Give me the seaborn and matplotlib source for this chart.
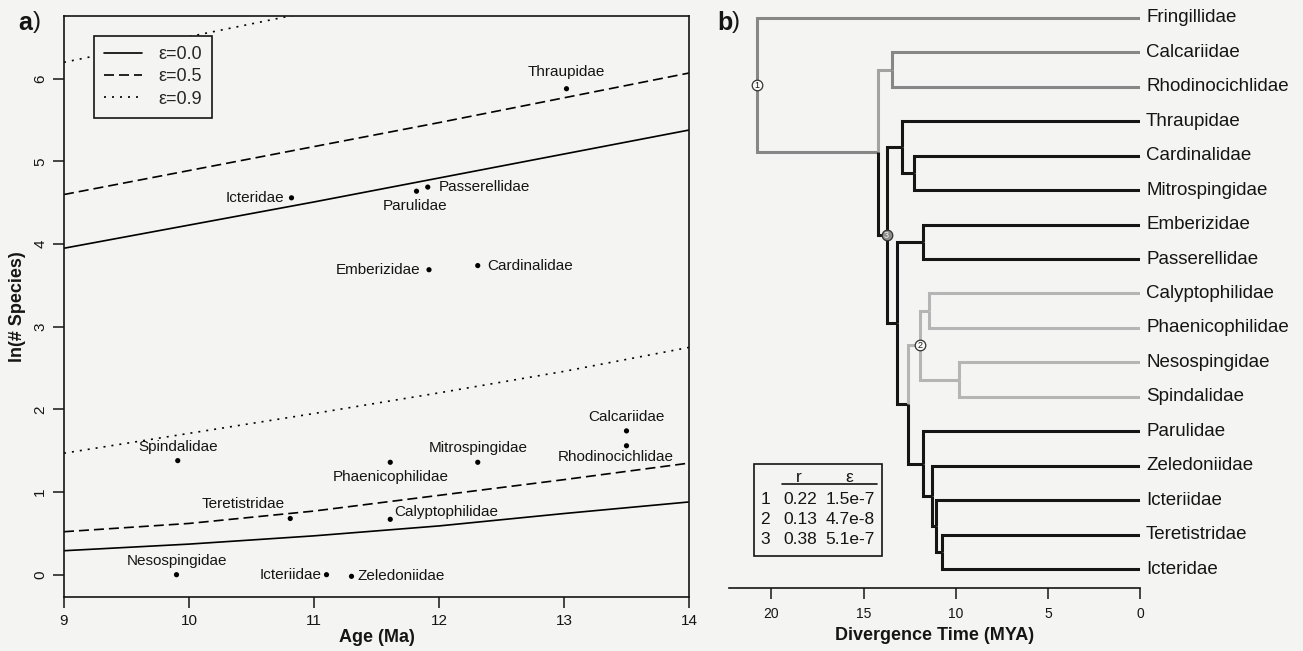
import numpy as np
import pandas as pd
import matplotlib
matplotlib.use('Agg')
import matplotlib.pyplot as plt
from matplotlib.lines import Line2D
from matplotlib.patches import Rectangle
import seaborn as sns

# ---------------- panel a: clade age vs. richness ----------------
families = ['Thraupidae', 'Icteridae', 'Parulidae', 'Passerellidae', 'Emberizidae',
            'Cardinalidae', 'Spindalidae', 'Teretistridae', 'Nesospingidae', 'Icteriidae',
            'Zeledoniidae', 'Phaenicophilidae', 'Calyptophilidae', 'Mitrospingidae',
            'Calcariidae', 'Rhodinocichlidae']
ages = [13.02, 10.82, 11.82, 11.91, 11.92, 12.31, 9.91, 10.81, 9.90, 11.10,
        11.30, 11.61, 11.61, 12.31, 13.50, 13.50]
ln_species = [5.88, 4.56, 4.64, 4.69, 3.69, 3.74, 1.38, 0.68, 0.00, 0.00,
              -0.02, 1.36, 0.67, 1.36, 1.74, 1.56]

# expected-richness envelopes
curve_age = [9, 10, 11, 12, 13, 14]
eps00_lower = [0.29, 0.37, 0.47, 0.59, 0.74, 0.88]
eps00_upper = [3.95, 4.23, 4.51, 4.80, 5.09, 5.38]
eps05_lower = [0.52, 0.62, 0.77, 0.96, 1.15, 1.35]
eps05_upper = [4.60, 4.89, 5.18, 5.47, 5.77, 6.07]
eps09_lower = [1.47, 1.71, 1.95, 2.20, 2.46, 2.75]
eps09_upper = [6.20, 6.51, 6.82]

# ---------------- panel b: time tree ----------------
tips = ['Fringillidae', 'Calcariidae', 'Rhodinocichlidae', 'Thraupidae', 'Cardinalidae',
        'Mitrospingidae', 'Emberizidae', 'Passerellidae', 'Calyptophilidae',
        'Phaenicophilidae', 'Nesospingidae', 'Spindalidae', 'Parulidae', 'Zeledoniidae',
        'Icteriidae', 'Teretistridae', 'Icteridae']
# (node, upper child, lower child, age in MYA)
nodes = [
    ('root', 'Fringillidae', 'A', 20.8),
    ('A', 'CR', 'n3', 14.2),
    ('CR', 'Calcariidae', 'Rhodinocichlidae', 13.45),
    ('n3', 'TC', 'C', 13.75),
    ('TC', 'Thraupidae', 'CM', 12.93),
    ('CM', 'Cardinalidae', 'Mitrospingidae', 12.28),
    ('C', 'EP', 'D', 13.2),
    ('EP', 'Emberizidae', 'Passerellidae', 11.8),
    ('D', 'n2', 'E', 12.6),
    ('n2', 'CP', 'NS', 11.96),
    ('CP', 'Calyptophilidae', 'Phaenicophilidae', 11.47),
    ('NS', 'Nesospingidae', 'Spindalidae', 9.84),
    ('E', 'Parulidae', 'F', 11.8),
    ('F', 'Zeledoniidae', 'G', 11.3),
    ('G', 'Icteriidae', 'H', 11.09),
    ('H', 'Teretistridae', 'Icteridae', 10.76),
]
clade1 = ['Fringillidae', 'A', 'CR', 'Calcariidae', 'Rhodinocichlidae']
clade2 = ['n2', 'CP', 'NS', 'Calyptophilidae', 'Phaenicophilidae', 'Nesospingidae', 'Spindalidae']
labelled_nodes = {'root': '1', 'n2': '2', 'n3': '3'}

table_ids = ['1', '2', '3']
table_r = ['0.22', '0.13', '0.38']
table_eps = ['1.5e-7', '4.7e-8', '5.1e-7']

# ---------------- style ----------------
sns.set_theme(style='white')
plt.rcParams['font.family'] = ['Liberation Sans', 'DejaVu Sans']
BG = '#f4f4f2'
GRAY1 = '#878787'
GRAY1_LIGHT = '#a2a2a2'
GRAY2 = '#b5b5b5'
INK = '#151515'

W, H = 1303, 651
fig = plt.figure(figsize=(W / 100, H / 100), dpi=100, facecolor=BG)

# ================= panel a =================
ax1 = fig.add_axes([64 / W, 1 - 597 / H, 625 / W, 581 / H], facecolor=BG)

rows = []
for eps, bound, ys in [('ε=0.0', 'lo', eps00_lower), ('ε=0.0', 'hi', eps00_upper),
                       ('ε=0.5', 'lo', eps05_lower), ('ε=0.5', 'hi', eps05_upper),
                       ('ε=0.9', 'lo', eps09_lower), ('ε=0.9', 'hi', eps09_upper)]:
    for a, y in zip(curve_age, ys):
        rows.append({'age': a, 'ln': y, 'eps': eps, 'bound': bound})
curves = pd.DataFrame(rows)

dash_map = {'ε=0.0': '', 'ε=0.5': (6, 3), 'ε=0.9': (1.2, 3.6)}
sns.lineplot(data=curves, x='age', y='ln', style='eps', units='bound', estimator=None,
             dashes=dash_map, color='black', lw=1.2, legend=False, ax=ax1)

pts = pd.DataFrame({'family': families, 'age': ages, 'ln_species': ln_species})
sns.scatterplot(data=pts, x='age', y='ln_species', color='black', s=14,
                edgecolor='none', legend=False, ax=ax1, zorder=3)

# label placement (pixel offsets from each point)
label_pos = {
    'Thraupidae': (0, 17, 'center'), 'Icteridae': (-7, 0, 'right'),
    'Parulidae': (-1, -15, 'center'), 'Passerellidae': (11, 0, 'left'),
    'Emberizidae': (-9, 0, 'right'), 'Cardinalidae': (10, 0, 'left'),
    'Spindalidae': (0, 14, 'center'), 'Teretistridae': (-5, 14, 'right'),
    'Nesospingidae': (1, 14, 'center'), 'Icteriidae': (-5, 0, 'right'),
    'Zeledoniidae': (6, 0, 'left'), 'Phaenicophilidae': (0, -15, 'center'),
    'Calyptophilidae': (4, 7, 'left'), 'Mitrospingidae': (0, 14, 'center'),
    'Calcariidae': (0, 14, 'center'), 'Rhodinocichlidae': (-11, -11, 'center'),
}
for fam, a, y in zip(families, ages, ln_species):
    dx, dy, ha = label_pos[fam]
    ax1.annotate(fam, (a, y), xytext=(dx, dy), textcoords='offset pixels',
                 ha=ha, va='center', fontsize=11, color=INK)

ax1.set_xlim(9, 14)
ax1.set_ylim(-0.27, 6.76)
ax1.set_xticks(range(9, 15))
ax1.set_yticks(range(0, 7))
for lab in ax1.get_yticklabels():
    lab.set_rotation(90)
    lab.set_va('center')
ax1.tick_params(axis='both', direction='out', length=8, width=1.1, color=INK,
                labelsize=11, labelcolor=INK, pad=4, bottom=True, left=True)
for sp in ax1.spines.values():
    sp.set_color(INK)
    sp.set_linewidth(1.2)
ax1.set_xlabel('Age (Ma)', fontsize=13, fontweight='bold', color=INK)
ax1.set_ylabel('ln(# Species)', fontsize=13, fontweight='bold', color=INK)
ax1.xaxis.set_label_coords(0.5, (597 - 638) / 581)
ax1.xaxis.label.set_va('center')
ax1.yaxis.set_label_coords((18 - 64) / 625, 0.5)
ax1.yaxis.label.set_va('center')

handles = [Line2D([], [], color='black', lw=1.2, linestyle='-'),
           Line2D([], [], color='black', lw=1.2, linestyle=(0, (6, 3))),
           Line2D([], [], color='black', lw=1.2, linestyle=(0, (1.2, 3.6)))]
leg = ax1.legend(handles, ['ε=0.0', 'ε=0.5', 'ε=0.9'], loc='upper left',
                 bbox_to_anchor=((94 - 64) / 625, 1 - (36 - 16) / 581), borderaxespad=0,
                 fontsize=13, handlelength=2.1, handletextpad=0.9, labelspacing=0.3,
                 borderpad=0.55, fancybox=False, edgecolor=INK, facecolor=BG, framealpha=1)
leg.get_frame().set_linewidth(1.2)

# ================= panel b =================
ax2 = fig.add_axes([729 / W, 1 - 588 / H, 411 / W, 578 / H], facecolor='none')

ypos = {t: i for i, t in enumerate(tips)}
xpos = {t: 0.0 for t in tips}
for name, c1, c2, age in reversed(nodes):
    ypos[name] = (ypos[c1] + ypos[c2]) / 2
    xpos[name] = age

def branch_color(n):
    if n == 'CR':
        return GRAY1_LIGHT
    if n in clade1:
        return GRAY1
    if n in clade2:
        return GRAY2
    return INK

for name, c1, c2, age in nodes:
    for ch in (c1, c2):
        col = branch_color(ch)
        ax2.plot([age, age, xpos[ch]], [ypos[name], ypos[ch], ypos[ch]],
                 color=col, lw=2.2, solid_joinstyle='miter', solid_capstyle='butt')

for t in tips:
    ax2.text(-0.33, ypos[t], t, ha='left', va='center', fontsize=13.5, color=INK,
             clip_on=False)

for n, lab in labelled_nodes.items():
    fill = '#8c8c8c' if lab == '3' else '#fafafa'
    tcol = '#f0f0f0' if lab == '3' else INK
    ax2.scatter([xpos[n]], [ypos[n]], s=58, facecolor=fill, edgecolor='#333333',
                linewidth=0.9, zorder=5)
    ax2.text(xpos[n], ypos[n], lab, ha='center', va='center', fontsize=6.5,
             color=tcol, zorder=6)

ax2.set_xlim(22.3, 0)
ax2.set_ylim(16.55, -0.23)
ax2.set_xticks([20, 15, 10, 5, 0])
ax2.set_yticks([])
for s in ['top', 'left', 'right']:
    ax2.spines[s].set_visible(False)
ax2.spines['bottom'].set_color(INK)
ax2.spines['bottom'].set_linewidth(1.2)
ax2.tick_params(axis='x', direction='out', length=8, width=1.1, color=INK,
                labelsize=10, labelcolor=INK, pad=6, bottom=True)
ax2.set_xlabel('Divergence Time (MYA)', fontsize=13, fontweight='bold', color=INK)
ax2.xaxis.set_label_coords(0.5, (588 - 635) / 578)
ax2.xaxis.label.set_va('center')

# inset table of rates
def fpx(x, y):
    return (x / W, 1 - y / H)

fig.add_artist(Rectangle(fpx(754, 556), 128 / W, 92 / H, transform=fig.transFigure,
                         facecolor=BG, edgecolor=INK, lw=1.2))
fig.text(*fpx(799, 477), 'r', ha='center', va='center', fontsize=12.5, color=INK)
fig.text(*fpx(849, 477), 'ε', ha='center', va='center', fontsize=12.5, color=INK)
fig.add_artist(Line2D([782 / W, 877 / W], [1 - 484 / H, 1 - 484 / H],
                      transform=fig.transFigure, color=INK, lw=1.2))
for i, (k, r, e) in enumerate(zip(table_ids, table_r, table_eps)):
    yy = 499 + i * 20.5
    fig.text(*fpx(765, yy), k, ha='center', va='center', fontsize=12.5, color=INK)
    fig.text(*fpx(800, yy), r, ha='center', va='center', fontsize=12.5, color=INK)
    fig.text(*fpx(850, yy), e, ha='center', va='center', fontsize=12.5, color=INK)

# panel letters
for x0, letter in [(18, 'a'), (717, 'b')]:
    fig.text(*fpx(x0, 23), letter, ha='left', va='center', fontsize=18,
             fontweight='bold', color=INK)
    fig.text(*fpx(x0 + 15, 22), ')', ha='left', va='center', fontsize=17, color=INK)

fig.savefig('out.png', dpi=100, facecolor=BG)
